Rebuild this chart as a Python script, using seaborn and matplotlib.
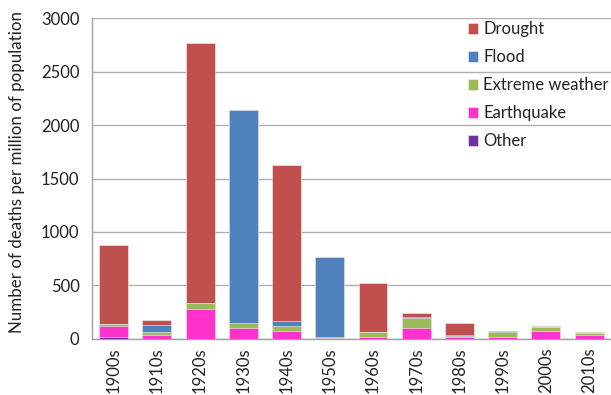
import numpy as np
import pandas as pd
import seaborn as sns
import matplotlib.pyplot as plt

decades = ["1900s", "1910s", "1920s", "1930s", "1940s", "1950s",
           "1960s", "1970s", "1980s", "1990s", "2000s", "2010s"]

# deaths per million, by cause
other = [20, 0, 0, 0, 0, 0, 0, 0, 0, 0, 0, 0]
earthquake = [105, 35, 280, 106, 72, 8, 15, 106, 16, 16, 70, 34]
extreme_weather = [15, 33, 60, 44, 52, 12, 45, 90, 12, 44, 40, 19]
flood = [0, 60, 0, 1990, 44, 750, 8, 12, 12, 15, 6, 5]
drought = [738, 45, 2430, 0, 1460, 0, 457, 35, 112, 0, 6, 2]

causes = ["Other", "Earthquake", "Extreme weather", "Flood", "Drought"]
colors = {"Drought": "#C0504D", "Flood": "#4F81BD", "Extreme weather": "#9BBB59",
          "Earthquake": "#FF33CC", "Other": "#7030A0"}

df = pd.DataFrame({"decade": decades, "Other": other, "Earthquake": earthquake,
                   "Extreme weather": extreme_weather, "Flood": flood,
                   "Drought": drought})
# cumulative tops for stacking (bottom -> top)
cum = df[causes].cumsum(axis=1)
cum["decade"] = decades

sns.set_style("white")
plt.rcParams["font.family"] = ["Lato", "DejaVu Sans"]

fig = plt.figure(figsize=(6.11, 3.95), dpi=100)
ax = fig.add_axes([0.1506, 0.142, 0.849, 0.812])

# draw tallest layer first so smaller ones sit on top
for c in causes[::-1]:
    sns.barplot(data=cum, x="decade", y=c, color=colors[c], label=c,
                width=0.67, saturation=1, edgecolor="#f2f2f2", linewidth=0.4,
                ax=ax, zorder=3)

ax.set_ylim(0, 3000)
ax.set_xlim(-0.5, 11.5)
ax.set_yticks(np.arange(0, 3001, 500))
ax.yaxis.grid(True, color="#b0b0b0", linewidth=1, zorder=0)
ax.set_axisbelow(True)

ax.set_xlabel("")
ax.set_ylabel("Number of deaths per million of population", fontsize=12.2,
              color="#222222")
ax.yaxis.set_label_coords(-0.13, 0.52)
ax.tick_params(axis="y", labelsize=12, length=5, width=1, color="#a0a0a0",
               labelcolor="#222222", pad=4)
ax.set_xticks(range(len(decades)))
ax.set_xticklabels(decades, rotation=90)
ax.tick_params(axis="x", which="major", length=0, labelsize=12,
               labelcolor="#222222", pad=6)
ax.set_xticks(np.arange(-0.5, 12, 1), minor=True)
ax.tick_params(axis="x", which="minor", length=5, width=1, color="#a0a0a0")

for s in ["top", "right"]:
    ax.spines[s].set_visible(False)
for s in ["left", "bottom"]:
    ax.spines[s].set_color("#a0a0a0")
    ax.spines[s].set_linewidth(1)

handles, labels = ax.get_legend_handles_labels()
leg = ax.legend(handles, labels, loc="upper left", bbox_to_anchor=(0.724, 0.99),
                borderaxespad=0, borderpad=0, frameon=False, fontsize=12,
                handlelength=0.6, handleheight=0.6, handletextpad=0.35,
                labelspacing=0.72)
for t in leg.get_texts():
    t.set_color("#222222")

fig.savefig("out.png", dpi=100)
